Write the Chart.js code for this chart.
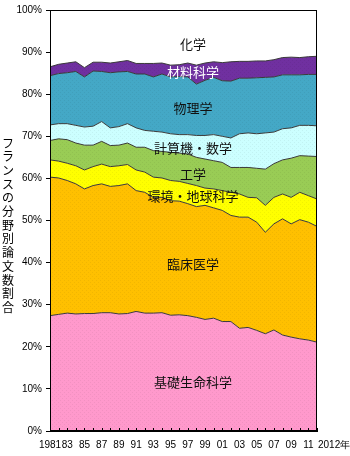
<!DOCTYPE html>
<html>
<head>
<meta charset="utf-8">
<script src="https://cdn.jsdelivr.net/npm/chart.js@4"></script>
<style>
  html, body { margin: 0; padding: 0; background: #fff; }
  canvas { display: block; }
</style>
</head>
<body>
<canvas id="chart" width="350" height="456"></canvas>
<script>
// years on the x axis
const years = [1981, 1982, 1983, 1984, 1985, 1986, 1987, 1988, 1989, 1990,
  1991, 1992, 1993, 1994, 1995, 1996, 1997, 1998, 1999, 2000,
  2001, 2002, 2003, 2004, 2005, 2006, 2007, 2008, 2009, 2010, 2011, 2012];
const tickLabels = ['1981', '', '83', '', '85', '', '87', '', '89', '',
  '91', '', '93', '', '95', '', '97', '', '99', '',
  '01', '', '03', '', '05', '', '07', '', '09', '', '11', '2012年'];

// share of papers per field (%), bottom of the stack first
const lifeSci     = [27.4, 27.7, 28.0, 27.8, 27.9, 27.9, 28.1, 28.1, 27.8, 27.9, 28.4, 28.0, 28.0, 28.1, 27.5, 27.6, 27.4, 27.0, 26.5, 26.8, 26.0, 26.0, 24.4, 24.6, 23.9, 23.1, 24.0, 22.8, 22.3, 21.9, 21.6, 21.1];
const clinical    = [32.9, 32.4, 31.5, 30.9, 29.6, 30.4, 30.6, 30.0, 30.5, 30.8, 28.7, 28.7, 27.5, 27.4, 27.2, 27.0, 26.6, 26.3, 27.1, 26.2, 26.4, 25.2, 26.4, 26.2, 25.7, 24.1, 25.2, 27.6, 26.9, 28.3, 28.0, 27.5];
const envEarth    = [4.1, 4.0, 4.1, 4.3, 4.5, 4.5, 4.7, 4.7, 4.7, 4.6, 4.9, 4.8, 4.8, 4.6, 4.8, 4.7, 4.8, 5.0, 4.1, 4.5, 4.7, 5.5, 5.5, 4.7, 5.8, 6.4, 6.3, 5.9, 6.3, 6.5, 6.3, 6.5];
const engineering = [4.6, 5.3, 5.6, 5.4, 5.9, 5.1, 5.4, 5.0, 4.9, 5.1, 5.4, 5.9, 6.3, 6.3, 6.7, 6.7, 7.0, 6.7, 6.9, 6.7, 6.7, 5.9, 6.3, 7.1, 7.0, 8.6, 8.0, 8.1, 9.3, 8.7, 9.4, 10.1];
const compMath    = [3.7, 3.6, 3.8, 4.2, 4.3, 4.5, 4.7, 4.2, 4.4, 4.6, 4.6, 4.0, 4.6, 4.6, 4.4, 4.4, 4.6, 5.2, 5.6, 6.2, 6.2, 7.0, 8.0, 8.2, 8.2, 8.6, 7.5, 7.4, 7.2, 7.2, 7.3, 7.3];
const physics     = [11.7, 11.9, 12.1, 12.8, 11.9, 13.1, 11.9, 13.1, 13.0, 12.4, 12.8, 13.4, 12.9, 13.8, 13.5, 13.8, 13.7, 12.2, 13.1, 13.6, 13.2, 13.5, 13.2, 13.0, 13.3, 13.2, 13.1, 12.8, 12.6, 12.0, 12.1, 12.2];
const materials   = [2.1, 2.2, 2.3, 2.3, 2.2, 2.1, 2.2, 2.3, 2.4, 2.6, 2.5, 2.5, 3.2, 2.6, 2.8, 2.8, 3.3, 4.5, 4.1, 3.7, 4.3, 4.6, 4.0, 4.0, 4.0, 3.9, 4.1, 4.1, 4.2, 4.1, 4.2, 4.3];
const chemistry   = [13.5, 12.9, 12.6, 12.3, 13.7, 12.4, 12.4, 12.6, 12.3, 12.0, 12.7, 12.7, 12.7, 12.6, 13.1, 13.0, 12.6, 13.1, 12.6, 12.3, 12.5, 12.3, 12.2, 12.2, 12.1, 12.1, 11.8, 11.3, 11.2, 11.3, 11.1, 11.0];

const fieldNames = ['基礎生命科学', '臨床医学', '環境・地球科学', '工学', '計算機・数学', '物理学', '材料科学', '化学'];
const yTitle = 'フランスの分野別論文数割合';

const series = [lifeSci, clinical, envEarth, engineering, compMath, physics, materials, chemistry];
const colors = ['#ff99cc', '#ffc000', '#ffff00', '#99cc55', '#ccffff', '#44a8c6', '#7030a0', '#ffffff'];
// where each field name sits: [year index, % on the axis], and text colour
const labelSpots = [[16.6, 11.6], [16.6, 39.7], [16.6, 55.8], [16.6, 61.0], [16.6, 67.2], [16.6, 76.7], [16.6, 85.2], [16.6, 91.8]];
const labelColors = ['#111', '#111', '#111', '#111', '#111', '#111', '#fff', '#111'];

const FONT = "'Liberation Sans Narrow', 'Liberation Sans', Arial, sans-serif";
const JP = "'Noto Sans CJK JP', sans-serif";

// faint dotted texture like the original fills
function dotted(base) {
  if (base === '#ffffff') return base;
  const c = document.createElement('canvas');
  c.width = 4; c.height = 4;
  const g = c.getContext('2d');
  g.fillStyle = base;
  g.fillRect(0, 0, 4, 4);
  g.fillStyle = 'rgba(0,0,0,0.05)';
  g.fillRect(0, 0, 1, 1);
  g.fillRect(2, 2, 1, 1);
  return g.createPattern(c, 'repeat');
}

const overlay = {
  id: 'overlay',
  afterDatasetsDraw(chart) {
    const { ctx, chartArea: a, scales: { x, y } } = chart;
    ctx.save();
    // frame
    ctx.strokeStyle = '#000';
    ctx.lineWidth = 1;
    ctx.strokeRect(Math.round(a.left) + 0.5, Math.round(a.top) + 0.5,
      Math.round(a.right - a.left) - 1, Math.round(a.bottom - a.top) - 1);
    // inward year ticks
    ctx.beginPath();
    years.forEach((yr, i) => {
      const px = Math.round(x.getPixelForValue(i)) + 0.5;
      ctx.moveTo(px, a.bottom);
      ctx.lineTo(px, a.bottom - 3);
    });
    ctx.stroke();
    // last year label sits to the right of the axis end
    ctx.fillStyle = '#000';
    ctx.font = '10px ' + FONT;
    ctx.textAlign = 'left';
    ctx.textBaseline = 'middle';
    ctx.fillText(tickLabels[tickLabels.length - 1], x.getPixelForValue(years.length - 1) + 1, a.bottom + 14);
    // field names
    ctx.font = '13px ' + JP;
    ctx.textAlign = 'center';
    fieldNames.forEach((name, i) => {
      ctx.fillStyle = labelColors[i];
      ctx.fillText(name, x.getPixelForValue(labelSpots[i][0]), y.getPixelForValue(labelSpots[i][1]));
    });
    // vertical axis title, one character under another
    ctx.fillStyle = '#000';
    ctx.font = '12px ' + JP;
    [...yTitle].forEach((ch, i) => {
      ctx.fillText(ch, 8, 143 + i * 13.7);
    });
    ctx.restore();
  }
};

new Chart(document.getElementById('chart'), {
  type: 'line',
  data: {
    labels: years,
    datasets: series.map((vals, i) => ({
      label: fieldNames[i],
      data: vals,
      backgroundColor: dotted(colors[i]),
      borderColor: '#3a3a3a',
      borderWidth: i === series.length - 1 ? 0 : 1,
      pointRadius: 0,
      tension: 0,
      fill: i === 0 ? 'origin' : '-1'
    }))
  },
  options: {
    responsive: false,
    animation: false,
    layout: { padding: { left: 0, right: 33, top: 8, bottom: 0 } },
    plugins: {
      legend: { display: false },
      tooltip: { enabled: false }
    },
    scales: {
      x: {
        offset: false,
        grid: { display: false, drawTicks: false },
        border: { display: true, color: '#000' },
        afterFit(scale) { scale.height = 25; },
        ticks: {
          autoSkip: false,
          maxRotation: 0,
          padding: 8,
          color: '#000',
          font: { family: FONT, size: 10 },
          callback: (v, i) => (i === tickLabels.length - 1 ? '' : tickLabels[i])
        }
      },
      y: {
        stacked: true,
        min: 0,
        max: 100,
        grid: { drawOnChartArea: false, drawTicks: true, tickLength: 4, color: '#000' },
        border: { display: true, color: '#000' },
        afterFit(scale) { scale.width = 50; },
        ticks: {
          stepSize: 10,
          padding: 4,
          color: '#000',
          font: { family: FONT, size: 10 },
          callback: v => v + '%'
        }
      }
    }
  },
  plugins: [overlay]
});
</script>
</body>
</html>
